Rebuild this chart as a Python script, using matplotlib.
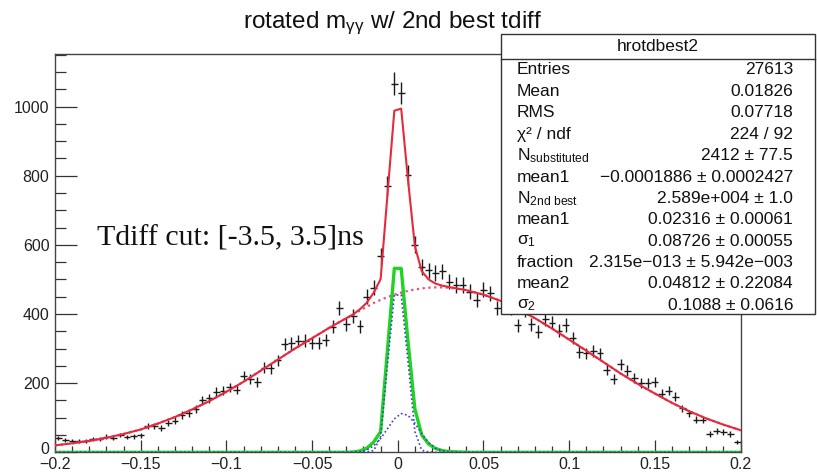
import numpy as np
import matplotlib
matplotlib.use("Agg")
import matplotlib.pyplot as plt
from matplotlib.patches import Rectangle
from matplotlib.lines import Line2D
from matplotlib.transforms import ScaledTranslation

plt.rcParams["font.family"] = ["Liberation Sans", "DejaVu Sans"]
plt.rcParams["mathtext.fontset"] = "custom"
plt.rcParams["mathtext.rm"] = "Liberation Sans"
plt.rcParams["mathtext.it"] = "Liberation Sans:italic"
plt.rcParams["mathtext.bf"] = "Liberation Sans:bold"

# histogram: 100 bins on [-0.2, 0.2]
x_lo, x_hi, n_bins = -0.2, 0.2, 100
counts = [41, 36, 32, 32, 33, 38, 38, 45, 42, 50,
          44, 46, 49, 77, 77, 70, 84, 92, 108, 113,
          125, 150, 156, 175, 178, 188, 181, 220, 212, 203,
          245, 243, 266, 313, 315, 322, 323, 317, 317, 325,
          363, 418, 370, 395, 365, 450, 476, 567, 770, 1066,
          1039, 802, 600, 537, 526, 518, 523, 494, 484, 484,
          465, 441, 470, 460, 417, 425, 418, 367, 412, 370,
          349, 385, 375, 351, 368, 330, 291, 286, 292, 286,
          239, 213, 255, 236, 216, 200, 200, 203, 170, 178,
          161, 127, 113, 94, 93, 53, 62, 59, 53, 31]

# fit curves
x_fit = [-0.20, -0.19, -0.18, -0.17, -0.16, -0.15, -0.14, -0.13, -0.12, -0.11,
         -0.10, -0.09, -0.08, -0.07, -0.06, -0.05, -0.04, -0.03,
         -0.026, -0.022, -0.018, -0.014, -0.010, -0.006, -0.002,
         0.002, 0.006, 0.010, 0.014, 0.018, 0.022, 0.026,
         0.03, 0.04, 0.05, 0.06, 0.07, 0.08, 0.09, 0.10, 0.11,
         0.12, 0.13, 0.14, 0.15, 0.16, 0.17, 0.18, 0.19, 0.20]
bkg = [20, 26, 33, 42, 53, 66, 83, 102, 124, 148,
       175, 204, 236, 268, 300, 330, 360, 388,
       398, 410, 421, 432, 441, 449, 456,
       462, 467, 471, 474, 476, 477, 477,
       476, 469, 456, 438, 414, 388, 358, 326, 294,
       261, 228, 198, 170, 143, 119, 98, 80, 64]
signal = [0] * 18 + [1, 4, 12, 30, 60, 296, 532,
                     532, 320, 125, 50, 24, 11, 5] + [2] + [0] * 17
narrow = [0] * 18 + [0, 0, 1, 5, 45, 255, 455,
                     455, 262, 60, 6, 1, 0, 0] + [0] * 18
wide = [0] * 18 + [1, 2, 7, 19, 40, 68, 97,
                   112, 107, 84, 54, 28, 12, 4] + [1] + [0] * 17

xtick_vals = [-0.2, -0.15, -0.1, -0.05, 0, 0.05, 0.1, 0.15, 0.2]
xtick_labels = ["\u22120.2", "\u22120.15", "\u22120.1", "\u22120.05", "0",
                "0.05", "0.1", "0.15", "0.2"]
ytick_vals = [0, 200, 400, 600, 800, 1000]

stat_names = ["Entries", "Mean", "RMS", "\u03c7\u00b2 / ndf",
              r"N$_{\mathrm{substituted}}$", "mean1", r"N$_{\mathrm{2nd\ best}}$",
              "mean1", r"$\mathrm{\sigma}_{1}$", "fraction", "mean2",
              r"$\mathrm{\sigma}_{2}$"]
stat_values = ["27613", "0.01826", "0.07718", "224 / 92", "2412 \u00b1 77.5",
               "\u22120.0001886 \u00b1 0.0002427", "2.589e+004 \u00b1 1.0",
               "0.02316 \u00b1 0.00061", "0.08726 \u00b1 0.00055",
               "2.315e\u2212013 \u00b1 5.942e\u2212003", "0.04812 \u00b1 0.22084",
               "0.1088 \u00b1 0.0616"]

counts = np.array(counts, dtype=float)
edges = np.linspace(x_lo, x_hi, n_bins + 1)
centers = 0.5 * (edges[:-1] + edges[1:])
half_w = 0.5 * (edges[1] - edges[0])
total = np.array(bkg, dtype=float) + np.array(signal, dtype=float)

fig = plt.figure(figsize=(8.17, 4.72), dpi=100)
ax = fig.add_axes([0.0673, 0.0417, 0.8391, 0.8439])

ax.errorbar(centers, counts, xerr=half_w, yerr=np.sqrt(counts), fmt="none",
            ecolor="#1a1a1a", elinewidth=1.0, zorder=2)
ax.plot(x_fit, bkg, color="#e0507f", lw=1.6, ls=(0, (1, 1.6)), zorder=3)
ax.plot(x_fit, total, color="#e62a3e", lw=1.5, zorder=4)
ax.plot(x_fit, wide, color="#3c3cdc", lw=1.2, ls=(0, (1, 1.5)), zorder=5)
ax.plot(x_fit, narrow, color="#3c3cdc", lw=1.2, ls=(0, (1, 1.5)), zorder=5)
ax.plot(x_fit, signal, color="#1fd41f", lw=2.4, zorder=4.5)

ax.set_xlim(x_lo, x_hi)
ax.set_ylim(0, 1152)
ax.set_xticks(xtick_vals)
ax.set_xticklabels(xtick_labels)
ax.set_xticks(np.arange(-0.19, 0.2, 0.01), minor=True)
ax.set_yticks(ytick_vals)
ax.set_yticks(np.arange(50, 1151, 50), minor=True)
ax.tick_params(axis="x", which="major", direction="in", length=8.5, width=0.9,
               labelsize=11.5, pad=3.5, colors="#333333", labelcolor="#222222")
ax.tick_params(axis="x", which="minor", direction="in", length=4.3, width=0.9,
               colors="#333333")
ax.tick_params(axis="y", which="major", direction="in", length=15.5, width=0.9,
               labelsize=11.5, pad=4, colors="#333333", labelcolor="#222222")
ax.tick_params(axis="y", which="minor", direction="in", length=7.7, width=0.9,
               colors="#333333")
for s in ax.spines.values():
    s.set_color("#444444")
    s.set_linewidth(1.0)

# lift the "0" on the y axis a little so it clears the "-0.2" below
zero_lab = ax.get_yticklabels()[0]
zero_lab.set_transform(zero_lab.get_transform()
                       + ScaledTranslation(0, 3 / 72, fig.dpi_scale_trans))

fig.text(392 / 817, 1 - 28 / 472,
         r"rotated m$_{\mathrm{\gamma\gamma}}$ w/ 2nd best tdiff",
         ha="center", va="baseline", fontsize=17.5, color="#111111")

fig.text(97 / 817, 1 - 245 / 472, "Tdiff cut: [-3.5, 3.5]ns",
         family="Liberation Serif", fontsize=21.5, ha="left", va="baseline",
         color="#111111")

# stats box
bx0, bx1 = 501 / 817, 815 / 817
by_top, by_bot, by_head = 1 - 34 / 472, 1 - 314 / 472, 1 - 59.3 / 472
fig.add_artist(Rectangle((bx0, by_bot), bx1 - bx0, by_top - by_bot,
                         transform=fig.transFigure, facecolor="white",
                         edgecolor="#333333", lw=1.0, zorder=10))
fig.add_artist(Line2D([bx0, bx1], [by_head, by_head], transform=fig.transFigure,
                      color="#333333", lw=1.0, zorder=11))
fig.text((bx0 + bx1) / 2, (by_top + by_head) / 2, "hrotdbest2", ha="center",
         va="center", fontsize=12.5, color="#111111", zorder=12)
for i, (name, val) in enumerate(zip(stat_names, stat_values)):
    yy = 1 - (70 + 21.4 * i) / 472
    fig.text(517 / 817, yy, name, ha="left", va="center", fontsize=12.5,
             color="#111111", zorder=12)
    fig.text(793 / 817, yy, val, ha="right", va="center", fontsize=12.5,
             color="#111111", zorder=12)

fig.savefig("out.png", dpi=100, facecolor="white")
